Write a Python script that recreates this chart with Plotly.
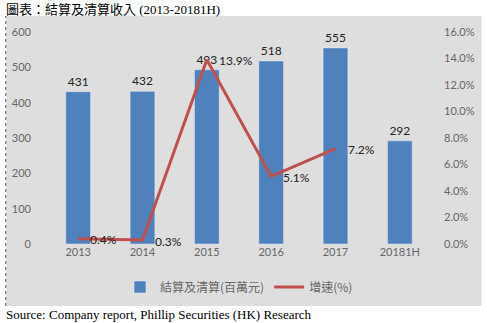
import plotly.graph_objects as go

years = ["2013", "2014", "2015", "2016", "2017", "20181H"]
revenue = [431, 432, 493, 518, 555, 292]
growth_years = ["2013", "2014", "2015", "2016", "2017"]
growth = [0.4, 0.3, 13.9, 5.1, 7.2]

bar_name = "結算及清算(百萬元)"
line_name = "增速(%)"

W, H = 487, 323
L, R, T, B = 43, 55, 32, 79
pw, ph = W - L - R, H - T - B


def px_x(p):
    return (p - L) / pw


def px_y(p):
    return (H - B - p) / ph


tick_font = dict(family="Lato, 'Noto Sans', sans-serif", size=11, color="#666666")
label_font = dict(family="Lato, sans-serif", size=12, color="#222222")

fig = go.Figure()
fig.add_trace(go.Bar(
    x=years, y=revenue, name=bar_name,
    marker_color="#4f81bd", width=0.385,
    text=[str(v) for v in revenue], textposition="outside",
    textfont=label_font, cliponaxis=False,
))
fig.add_trace(go.Scatter(
    x=growth_years, y=growth, name=line_name, yaxis="y2",
    mode="lines", line=dict(color="#c0504d", width=3),
    cliponaxis=False,
))

# growth labels sit just to the right of each point (category index on x)
growth_labels = [
    dict(x=years.index(yr), y=v, xref="x", yref="y2", text=f"{v:.1f}%", showarrow=False,
         xanchor="left", yanchor="middle", xshift=10, yshift=-1, font=label_font)
    for yr, v in zip(growth_years, growth)
]

fig.update_layout(
    width=W, height=H,
    margin=dict(l=L, r=R, t=T, b=B),
    paper_bgcolor="white", plot_bgcolor="rgba(0,0,0,0)",
    showlegend=True,
    legend=dict(orientation="h", x=0.5, xanchor="center", y=px_y(287), yanchor="middle",
                font=dict(family="'Noto Sans CJK TC', sans-serif", size=12, color="#666666"),
                bgcolor="rgba(0,0,0,0)", itemwidth=30),
    xaxis=dict(type="category", categoryorder="array", categoryarray=years,
               range=[-0.5, len(years) - 0.5],
               showgrid=False, showline=False, ticks="", tickfont=tick_font),
    yaxis=dict(range=[0, 600], dtick=100, showgrid=False, zeroline=False,
               showline=False, tickfont=tick_font, ticklabelstandoff=14),
    yaxis2=dict(range=[0, 16], dtick=2, overlaying="y", side="right",
                showgrid=False, zeroline=False, showline=False,
                ticksuffix="%", tickformat=".1f", tickfont=tick_font,
                ticklabelstandoff=11),
    shapes=[
        dict(type="rect", xref="paper", yref="paper", layer="below",
             x0=px_x(3), x1=px_x(482), y0=px_y(306), y1=px_y(16),
             fillcolor="#dedede", line=dict(width=0)),
        dict(type="line", xref="paper", yref="paper",
             x0=px_x(2.5), x1=px_x(2.5), y0=px_y(306), y1=px_y(16),
             line=dict(color="#555555", width=1, dash="dot")),
    ],
    annotations=growth_labels + [
        dict(text="圖表：結算及清算收入<span style=\"font-family:'Liberation Serif', serif\"> (2013-20181H)</span>",
             xref="paper", yref="paper",
             x=px_x(1), y=px_y(8), xanchor="left", yanchor="middle", showarrow=False,
             font=dict(family="'Noto Sans CJK TC', sans-serif", size=13, color="#000000")),
        dict(text="Source: Company report, Phillip Securities (HK) Research", xref="paper", yref="paper",
             x=px_x(1), y=px_y(314), xanchor="left", yanchor="middle", showarrow=False,
             font=dict(family="'Liberation Serif', 'Times New Roman', serif", size=13, color="#000000")),
    ],
)

fig.write_html("out.html")
